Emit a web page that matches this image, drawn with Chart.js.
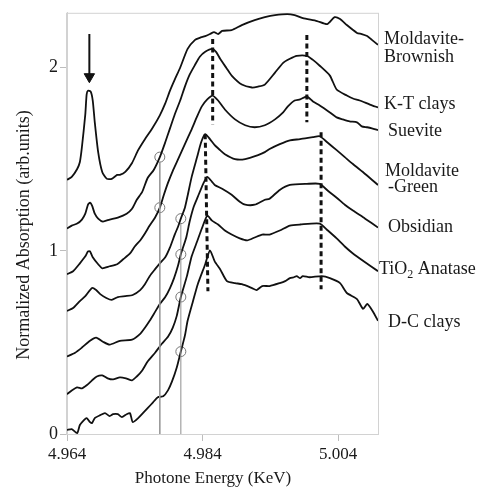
<!DOCTYPE html>
<html>
<head>
<meta charset="utf-8">
<script src="https://cdn.jsdelivr.net/npm/chart.js@4"></script>
<style>
  body { margin: 0; background: #fff; }
  canvas { display: block; }
</style>
</head>
<body>
<canvas id="xanes" width="478" height="490"></canvas>
<script>
// Ti K-edge XANES spectra, stacked (energy in keV, normalized absorption)
const xTicks = [4.964, 4.984, 5.004];
const yTicks = [0, 1, 2];

const eBrownish = [4.9640,4.9647,4.9655,4.9659,4.9662,4.9667,4.9669,4.9671,4.9675,4.9678,4.9681,4.9686,4.9692,4.9699,4.9706,4.9714,4.9718,4.9726,4.9736,4.9745,4.9755,4.9765,4.9777,4.9785,4.9792,4.9799,4.9807,4.9818,4.9829,4.9836,4.9844,4.9851,4.9857,4.9863,4.9869,4.9883,4.9898,4.9917,4.9932,4.9947,4.9965,4.9976,4.9988,5.0009,5.0024,5.0035,5.0043,5.0053,5.0068,5.0075,5.0083,5.0090,5.0099];
const aBrownish = [1.388,1.404,1.447,1.485,1.566,1.745,1.854,1.875,1.870,1.821,1.702,1.539,1.431,1.393,1.393,1.415,1.415,1.431,1.480,1.550,1.610,1.664,1.740,1.805,1.875,1.935,2.000,2.103,2.152,2.163,2.173,2.184,2.195,2.184,2.201,2.206,2.233,2.260,2.276,2.287,2.293,2.287,2.271,2.255,2.238,2.276,2.266,2.233,2.190,2.184,2.173,2.152,2.125];

const eKT = [4.9640,4.9647,4.9655,4.9662,4.9667,4.9671,4.9674,4.9677,4.9681,4.9686,4.9693,4.9703,4.9715,4.9728,4.9736,4.9743,4.9751,4.9759,4.9768,4.9777,4.9785,4.9792,4.9799,4.9807,4.9814,4.9821,4.9829,4.9836,4.9844,4.9854,4.9860,4.9866,4.9875,4.9883,4.9898,4.9913,4.9922,4.9932,4.9947,4.9959,4.9969,4.9979,4.9994,5.0003,5.0013,5.0028,5.0038,5.0053,5.0062,5.0072,5.0087,5.0099];
const aKT = [1.122,1.138,1.149,1.171,1.203,1.252,1.263,1.247,1.203,1.176,1.160,1.171,1.182,1.203,1.230,1.279,1.322,1.398,1.442,1.512,1.593,1.669,1.745,1.821,1.897,1.962,2.016,2.060,2.087,2.103,2.087,2.049,2.000,1.957,1.908,1.892,1.897,1.908,1.973,2.027,2.049,2.065,2.065,2.043,2.011,1.957,1.881,1.848,1.832,1.821,1.799,1.783];

const eSuevite = [4.9640,4.9649,4.9659,4.9667,4.9671,4.9674,4.9678,4.9686,4.9692,4.9703,4.9714,4.9723,4.9733,4.9740,4.9748,4.9755,4.9762,4.9770,4.9777,4.9783,4.9789,4.9796,4.9804,4.9814,4.9824,4.9832,4.9839,4.9847,4.9855,4.9863,4.9873,4.9888,4.9903,4.9917,4.9932,4.9947,4.9959,4.9966,4.9976,4.9984,4.9994,5.0003,5.0013,5.0028,5.0038,5.0047,5.0057,5.0068,5.0075,5.0083,5.0090,5.0099];
const aSuevite = [0.873,0.889,0.932,0.970,0.997,0.997,0.965,0.927,0.905,0.916,0.927,0.954,0.986,1.024,1.057,1.095,1.138,1.182,1.236,1.306,1.371,1.436,1.501,1.583,1.664,1.734,1.789,1.827,1.848,1.821,1.772,1.718,1.686,1.675,1.686,1.718,1.756,1.789,1.821,1.827,1.843,1.816,1.794,1.756,1.729,1.718,1.707,1.702,1.680,1.675,1.669,1.659];

const eGreen = [4.9640,4.9649,4.9659,4.9667,4.9677,4.9683,4.9689,4.9698,4.9706,4.9715,4.9726,4.9737,4.9748,4.9755,4.9762,4.9770,4.9777,4.9785,4.9792,4.9799,4.9804,4.9808,4.9814,4.9818,4.9824,4.9832,4.9838,4.9844,4.9851,4.9858,4.9866,4.9873,4.9888,4.9903,4.9922,4.9932,4.9939,4.9954,4.9969,4.9984,5.0003,5.0013,5.0024,5.0038,5.0050,5.0062,5.0080,5.0099];
const aGreen = [0.672,0.688,0.726,0.753,0.797,0.786,0.764,0.743,0.732,0.748,0.753,0.759,0.786,0.818,0.862,0.900,0.932,0.965,1.019,1.089,1.133,1.176,1.236,1.301,1.404,1.512,1.593,1.637,1.610,1.577,1.550,1.528,1.501,1.501,1.523,1.539,1.556,1.583,1.604,1.610,1.621,1.626,1.593,1.550,1.512,1.474,1.420,1.360];

const eObsidian = [4.9640,4.9652,4.9662,4.9674,4.9683,4.9693,4.9703,4.9718,4.9736,4.9748,4.9755,4.9762,4.9770,4.9777,4.9785,4.9792,4.9798,4.9804,4.9808,4.9816,4.9821,4.9827,4.9833,4.9841,4.9847,4.9854,4.9858,4.9869,4.9883,4.9895,4.9903,4.9917,4.9932,4.9939,4.9954,4.9969,4.9994,5.0013,5.0025,5.0038,5.0050,5.0062,5.0080,5.0099];
const aObsidian = [0.423,0.444,0.472,0.509,0.526,0.504,0.488,0.509,0.515,0.547,0.580,0.618,0.667,0.710,0.748,0.797,0.851,0.921,0.981,1.073,1.160,1.241,1.295,1.366,1.404,1.377,1.360,1.339,1.306,1.268,1.252,1.252,1.279,1.285,1.333,1.360,1.366,1.366,1.328,1.290,1.252,1.220,1.176,1.127];

const eAnatase = [4.9640,4.9647,4.9655,4.9662,4.9669,4.9677,4.9684,4.9692,4.9700,4.9708,4.9718,4.9727,4.9736,4.9743,4.9751,4.9759,4.9770,4.9780,4.9789,4.9796,4.9802,4.9808,4.9817,4.9824,4.9832,4.9839,4.9847,4.9854,4.9863,4.9873,4.9883,4.9895,4.9906,4.9917,4.9928,4.9939,4.9954,4.9969,4.9984,5.0013,5.0025,5.0038,5.0050,5.0062,5.0080,5.0099];
const aAnatase = [0.217,0.238,0.255,0.249,0.266,0.293,0.314,0.320,0.304,0.298,0.309,0.304,0.293,0.314,0.347,0.396,0.444,0.493,0.531,0.580,0.645,0.748,0.862,0.970,1.051,1.122,1.192,1.165,1.144,1.111,1.089,1.068,1.057,1.073,1.089,1.089,1.111,1.138,1.144,1.149,1.111,1.068,1.024,0.986,0.938,0.889];

const eDC = [4.9640,4.9647,4.9655,4.9659,4.9665,4.9669,4.9674,4.9677,4.9681,4.9689,4.9696,4.9703,4.9708,4.9715,4.9721,4.9728,4.9733,4.9737,4.9745,4.9752,4.9759,4.9767,4.9774,4.9782,4.9789,4.9795,4.9802,4.9808,4.9814,4.9818,4.9826,4.9833,4.9844,4.9851,4.9858,4.9866,4.9876,4.9888,4.9898,4.9913,4.9920,4.9928,4.9939,4.9954,4.9962,4.9969,4.9975,4.9979,4.9984,4.9988,4.9998,5.0016,5.0028,5.0043,5.0053,5.0068,5.0077,5.0083,5.0091,5.0099];
const aDC = [0.022,0.027,0.005,0.049,0.076,0.087,0.065,0.060,0.087,0.103,0.114,0.098,0.108,0.108,0.092,0.108,0.114,0.065,0.087,0.114,0.141,0.173,0.201,0.206,0.238,0.287,0.363,0.450,0.537,0.618,0.726,0.818,0.927,1.003,0.943,0.900,0.835,0.824,0.818,0.797,0.786,0.808,0.808,0.824,0.835,0.851,0.856,0.862,0.851,0.862,0.856,0.862,0.851,0.824,0.770,0.737,0.683,0.710,0.672,0.618];

// edge markers (open circles) and the two reference energies
const edgeE = [4.9777, 4.9777, 4.9808, 4.9808, 4.9808, 4.9808];
const edgeA = [1.512, 1.236, 1.176, 0.981, 0.748, 0.450];
const guideE = [4.9777, 4.9808];
const guideTop = [1.485, 1.149];

// dashed peak markers: [energy top, value top, energy bottom, value bottom]
const peakA1 = [4.9855, 2.157, 4.9855, 1.691];
const peakB1 = [4.9994, 2.179, 4.9994, 1.702];
const peakA2 = [4.9844, 1.637, 4.9848, 0.780];
const peakB2 = [5.0015, 1.648, 5.0015, 0.791];

// pre-edge arrow
const arrowE = 4.9673;
const arrowA = [2.184, 1.962];
const arrowTip = 1.951;

const names = ['Moldavite-Brownish', 'K-T clays', 'Suevite', 'Moldavite-Green', 'Obsidian', 'TiO2 Anatase', 'D-C clays'];

const pts = (xs, ys) => xs.map((x, i) => ({x: x, y: ys[i]}));
const seg = s => [{x: s[0], y: s[1]}, {x: s[2], y: s[3]}];

const curve = (label, xs, ys) => ({
  label: label, data: pts(xs, ys), showLine: true, borderColor: '#111',
  borderWidth: 1.8, pointRadius: 0, tension: 0.2, fill: false
});
const dashed = s => ({
  data: seg(s), showLine: true, borderColor: '#111', borderWidth: 3,
  borderDash: [5, 3.5], pointRadius: 0
});
const guide = i => ({
  data: [{x: guideE[i], y: 0}, {x: guideE[i], y: guideTop[i]}], showLine: true,
  borderColor: '#999', borderWidth: i == 0 ? 1.6 : 1.1, pointRadius: 0
});

const serif = '"Liberation Serif", "DejaVu Serif", serif';

// right-hand labels, axis titles and the plot frame
const decor = {
  id: 'decor',
  beforeDatasetsDraw(chart) {
    const {ctx, chartArea: a} = chart;
    ctx.save();
    ctx.strokeStyle = '#d2d2d2';
    ctx.lineWidth = 1;
    ctx.strokeRect(a.left - 0.5, a.top + 0.5, a.right - a.left + 1, a.bottom - a.top);
    ctx.restore();
  },
  afterDraw(chart) {
    const ctx = chart.ctx;
    ctx.save();
    ctx.fillStyle = '#1a1a1a';
    ctx.textBaseline = 'middle';
    ctx.textAlign = 'left';
    ctx.font = '18px ' + serif;
    const rows = [
      ['Moldavite-', 384, 39], ['Brownish', 384, 57], ['K-T clays', 384, 104],
      ['Suevite', 388, 131], ['Moldavite', 385, 171], ['-Green', 388, 187],
      ['Obsidian', 388, 227], ['D-C clays', 388, 322]
    ];
    rows.forEach(r => ctx.fillText(r[0], r[1], r[2]));
    // TiO2 with subscript
    let x = 379, y = 269;
    ctx.fillText('TiO', x, y);
    x += ctx.measureText('TiO').width;
    ctx.font = '12px ' + serif;
    ctx.fillText('2', x, y + 6);
    x += ctx.measureText('2').width;
    ctx.font = '18px ' + serif;
    ctx.fillText(' Anatase', x, y);

    ctx.textAlign = 'center';
    ctx.font = '17px ' + serif;
    ctx.fillText('Photone Energy (KeV)', 213, 479);
    ctx.translate(24, 235);
    ctx.rotate(-Math.PI / 2);
    ctx.font = '18px ' + serif;
    ctx.fillText('Normalized Absorption (arb.units)', 0, 0);
    ctx.restore();
  }
};

new Chart(document.getElementById('xanes'), {
  type: 'scatter',
  data: {
    datasets: [
      guide(0), guide(1),
      curve(names[0], eBrownish, aBrownish),
      curve(names[1], eKT, aKT),
      curve(names[2], eSuevite, aSuevite),
      curve(names[3], eGreen, aGreen),
      curve(names[4], eObsidian, aObsidian),
      curve(names[5], eAnatase, aAnatase),
      curve(names[6], eDC, aDC),
      dashed(peakA1), dashed(peakB1), dashed(peakA2), dashed(peakB2),
      {data: pts(edgeE, edgeA), pointStyle: 'circle', pointRadius: 5,
       pointBorderColor: '#777', pointBorderWidth: 1, pointBackgroundColor: 'rgba(0,0,0,0)'},
      {data: [{x: arrowE, y: arrowA[0]}, {x: arrowE, y: arrowA[1]}], showLine: true,
       borderColor: '#111', borderWidth: 2, pointRadius: 0},
      {data: [{x: arrowE, y: arrowTip}], pointStyle: 'triangle', pointRadius: 6,
       pointRotation: 180, pointBackgroundColor: '#111', pointBorderColor: '#111', pointBorderWidth: 1}
    ]
  },
  options: {
    responsive: false,
    animation: false,
    layout: {padding: {left: 0, top: 10, right: 100, bottom: 0}},
    plugins: {legend: {display: false}, tooltip: {enabled: false}},
    scales: {
      x: {
        type: 'linear', min: 4.964, max: 5.0099,
        afterBuildTicks: s => { s.ticks = xTicks.map(v => ({value: v})); },
        afterFit: s => { s.height = 56; },
        ticks: {callback: v => v.toFixed(3), color: '#1a1a1a', padding: 3,
                maxRotation: 0, font: {family: serif, size: 17}},
        grid: {drawOnChartArea: false, tickLength: 7, color: '#bdbdbd'},
        border: {color: '#d2d2d2'}
      },
      y: {
        min: 0, max: 2.3,
        afterBuildTicks: s => { s.ticks = yTicks.map(v => ({value: v})); },
        afterFit: s => { s.width = 67; },
        ticks: {callback: v => String(v), color: '#1a1a1a', padding: 2,
                font: {family: serif, size: 18}},
        grid: {drawOnChartArea: false, tickLength: 7, color: '#bdbdbd'},
        border: {color: '#d2d2d2'}
      }
    }
  },
  plugins: [decor]
});
</script>
</body>
</html>
